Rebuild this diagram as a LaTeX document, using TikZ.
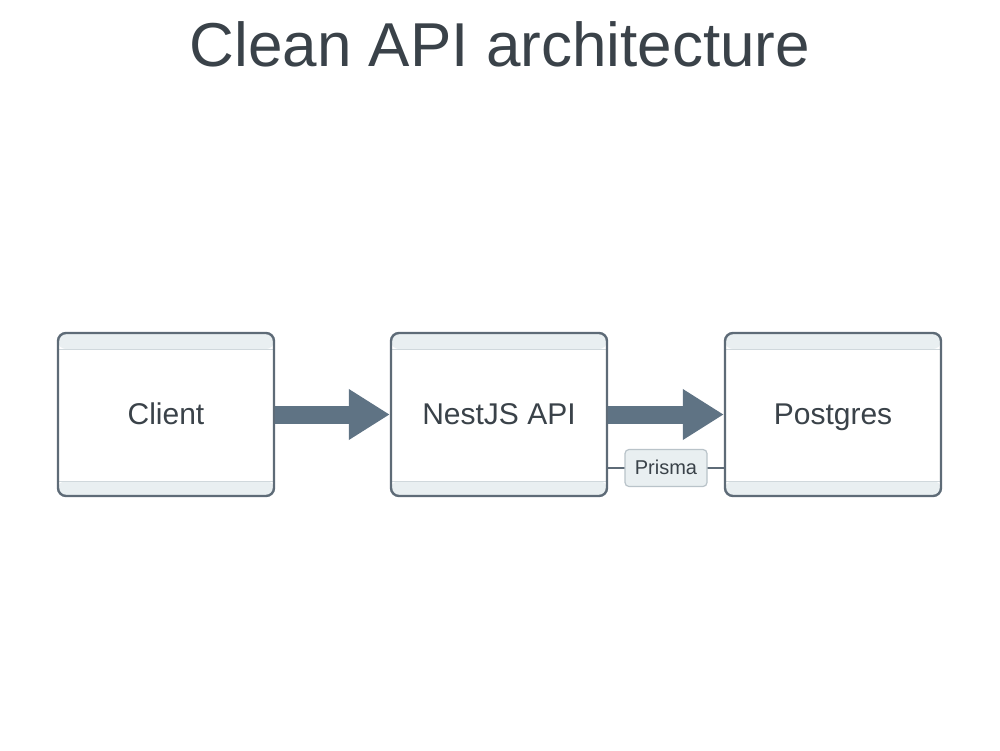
\documentclass[tikz,border=0pt]{standalone}
\usepackage{fontspec}
\setmainfont{Liberation Sans}
\usetikzlibrary{arrows.meta,calc,positioning}
\definecolor{edge}{HTML}{5E6B77}
\definecolor{flowc}{HTML}{5F7384}
\definecolor{band}{HTML}{E9EFF1}
\definecolor{bandline}{HTML}{D0D8DC}
\definecolor{ink}{HTML}{3A4249}
\definecolor{tagline}{HTML}{B9C3C9}
\tikzset{flow/.style={line width=18pt, flowc, -{Triangle[length=41pt, width=48pt]}},
  svc/.style={draw=edge, line width=2.4pt, rounded corners=8pt, fill=white,
    minimum width=216pt, minimum height=163pt, font=\fontsize{30}{32}\selectfont, text=ink,
    text height=25pt, text depth=6pt,
    path picture={
      \fill[band] (path picture bounding box.north west) rectangle ([yshift=-16pt]path picture bounding box.north east);
      \fill[band] (path picture bounding box.south west) rectangle ([yshift=15pt]path picture bounding box.south east);
      \draw[bandline, line width=1pt] ([yshift=-16pt]path picture bounding box.north west) -- ([yshift=-16pt]path picture bounding box.north east);
      \draw[bandline, line width=1pt] ([yshift=15pt]path picture bounding box.south west) -- ([yshift=15pt]path picture bounding box.south east);}},
  link/.style={draw=edge, line width=1.6pt},
  tagbox/.style={draw=tagline, line width=1.2pt, fill=band, rounded corners=4pt,
    minimum width=82pt, minimum height=37pt, font=\fontsize{20}{22}\selectfont, text=ink,
    text height=14pt, text depth=1pt}}

\begin{document}
\begin{tikzpicture}[x=1pt, y=-1pt]
  \useasboundingbox (0,0) rectangle (1000,750);
  \node[text=ink, font=\fontsize{62}{66}\selectfont, anchor=base] (title) at (500,66) {Clean API architecture};
  % three services in a row
  \node[svc] (client) at (166,414.5) {Client};
  \node[svc] (api) at (499,414.5) {NestJS API};
  \node[svc] (db) at (833,414.5) {Postgres};
  % request flow
  \draw[flow] (client.east) -- (api.west);
  \draw[flow] (api.east) -- (db.west);
  % orm link under the arrow
  \draw[link] ([yshift=-53.5pt]api.east) -- ([yshift=-53.5pt]db.west) node[tagbox, midway] (orm) {Prisma};
\end{tikzpicture}
\end{document}
